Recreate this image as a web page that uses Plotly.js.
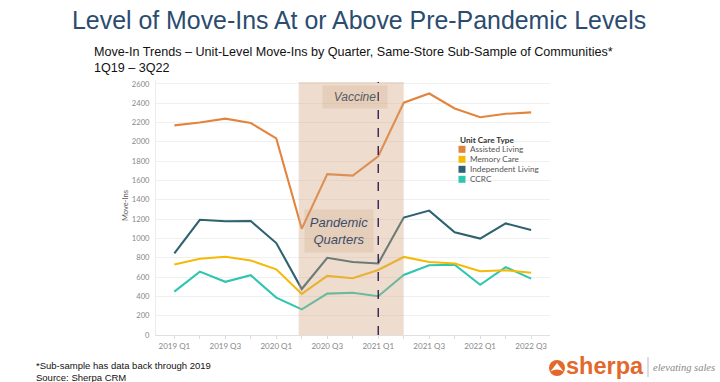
<!DOCTYPE html>
<html>
<head>
<meta charset="utf-8">
<script src="https://cdn.plot.ly/plotly-3.0.1.min.js"></script>
<style>html,body{margin:0;padding:0;background:#fff;}#chart{width:720px;height:382px;}</style>
</head>
<body>
<div id="chart"></div>
<script>
const quarters = ["2019 Q1","2019 Q2","2019 Q3","2019 Q4","2020 Q1","2020 Q2","2020 Q3","2020 Q4","2021 Q1","2021 Q2","2021 Q3","2021 Q4","2022 Q1","2022 Q2","2022 Q3"];
const tickLabels = ["2019 Q1","","2019 Q3","","2020 Q1","","2020 Q3","","2021 Q1","","2021 Q3","","2022 Q1","","2022 Q3"];
const seriesNames = ["Assisted Living","Memory Care","Independent Living","CCRC"];
const assistedLiving = [2170, 2200, 2240, 2195, 2035, 1100, 1665, 1650, 1850, 2405, 2500, 2345, 2255, 2290, 2305];
const memoryCare = [730, 790, 810, 772, 680, 425, 612, 588, 673, 808, 755, 740, 660, 670, 645];
const independentLiving = [845, 1193, 1178, 1180, 952, 476, 799, 755, 741, 1216, 1288, 1064, 998, 1155, 1088];
const ccrc = [449, 656, 551, 619, 387, 265, 428, 438, 401, 622, 722, 727, 520, 703, 584];
const colors = ["#E3843E", "#F6B906", "#2E6270", "#2EC6B1"];

// plot area in pixels
const L = 156, R = 550, T = 80, B = 335;
const px = x => (x - L) / (R - L);
const py = y => (B - y) / (B - T);

const seriesData = [assistedLiving, memoryCare, independentLiving, ccrc];
const order = [3, 1, 2, 0];
const traces = order.map(i => ({
  type: "scatter", mode: "lines", x: quarters, y: seriesData[i], name: seriesNames[i],
  line: {color: colors[i], width: 2.1}, showlegend: false, hoverinfo: "x+y+name"
}));

const shapes = [
  {type: "rect", xref: "x", yref: "paper", x0: 4.88, x1: 9.0, y0: 0, y1: py(82), layer: "above",
   fillcolor: "rgba(210,165,125,0.38)", line: {width: 0}},
  {type: "line", xref: "x", yref: "paper", x0: 8, x1: 8, y0: 0, y1: py(82), layer: "above",
   line: {color: "#2A0F4C", width: 1.3, dash: "dash"}},
  // logo
  {type: "circle", xref: "paper", yref: "paper", x0: px(549), x1: px(565), y0: py(376), y1: py(360),
   fillcolor: "#E2682C", line: {width: 0}},
  {type: "path", xref: "paper", yref: "paper",
   path: `M ${px(550.5)} ${py(371.5)} L ${px(557)} ${py(363)} L ${px(563.5)} ${py(371.5)} Q ${px(557)} ${py(367.5)} ${px(550.5)} ${py(371.5)} Z`,
   fillcolor: "#ffffff", line: {width: 0}},
  {type: "line", xref: "paper", yref: "paper", x0: px(648), x1: px(648), y0: py(357), y1: py(377),
   line: {color: "#bbbbbb", width: 1}}
];

// manual legend
const legTop = 149.3, legStep = 10;
seriesNames.forEach((n, i) => {
  const cy = legTop + i * legStep;
  shapes.push({type: "rect", xref: "paper", yref: "paper", x0: px(458.5), x1: px(465.5),
    y0: py(cy + 3.5), y1: py(cy - 3.5), fillcolor: colors[i], line: {width: 0}, layer: "above"});
});

const ann = (text, x, y, opts) => Object.assign({text, xref: "paper", yref: "paper", x: px(x), y: py(y),
  showarrow: false, xanchor: "left", yanchor: "middle"}, opts || {});

const annotations = [
  ann("Level of Move-Ins At or Above Pre-Pandemic Levels", 359, 20,
    {xanchor: "center", font: {family: "Liberation Sans, Arial", size: 24.9, color: "#2B4C6F"}}),
  ann("Move-In Trends – Unit-Level Move-Ins by Quarter, Same-Store Sub-Sample of Communities*", 92, 52,
    {font: {family: "Liberation Sans, Arial", size: 12.6, color: "#111"}}),
  ann("1Q19 – 3Q22", 92, 68, {font: {family: "Liberation Sans, Arial", size: 12.6, color: "#111"}}),
  ann("Move-Ins", 125, 206, {xanchor: "center", textangle: -90, font: {family: "Lato", size: 7.5, color: "#555"}}),
  ann("<i>Vaccine</i>", 355, 97, {xanchor: "center", bgcolor: "rgba(205,160,120,0.22)",
    borderpad: 4, width: 56, font: {family: "Liberation Sans, Arial", size: 12, color: "#555a66"}}),
  ann("<i>Pandemic<br>Quarters</i>", 339, 231, {xanchor: "center", bgcolor: "rgba(205,160,120,0.22)",
    borderpad: 5, width: 58, font: {family: "Liberation Sans, Arial", size: 13, color: "#3A4C6A"}}),
  ann("<b>Unit Care Type</b>", 457.5, 140, {font: {family: "Lato", size: 8.2, color: "#333"}}),
  ann("*Sub-sample has data back through 2019", 34, 365, {font: {family: "Liberation Sans, Arial", size: 9.5, color: "#111"}}),
  ann("Source: Sherpa CRM", 34, 377, {font: {family: "Liberation Sans, Arial", size: 9.5, color: "#111"}}),
  ann("<b>sherpa</b>", 564, 366, {font: {family: "Liberation Sans, Arial", size: 23.5, color: "#E2682C"}}),
  ann("<i>elevating sales</i>", 651, 367, {font: {family: "Liberation Serif, serif", size: 10.5, color: "#888"}})
];
seriesNames.forEach((n, i) => {
  annotations.push(ann(n, 467.5, legTop + i * legStep, {font: {family: "Lato", size: 8.2, color: "#555"}}));
});

const layout = {
  width: 720, height: 382,
  margin: {l: L, r: 720 - R, t: T, b: 382 - B, pad: 0},
  paper_bgcolor: "#fff", plot_bgcolor: "#fff",
  showlegend: false,
  xaxis: {
    type: "category", categoryorder: "array", categoryarray: quarters,
    range: [-0.72, 14.74], tickvals: quarters, ticktext: tickLabels,
    ticks: "outside", ticklen: 3, tickcolor: "#dddddd", showgrid: false, zeroline: false,
    showline: true, linecolor: "#e0e0e0", linewidth: 1,
    tickfont: {family: "Lato", size: 8, color: "#888"}
  },
  yaxis: {
    range: [0, 2640], tickvals: [0,200,400,600,800,1000,1200,1400,1600,1800,2000,2200,2400,2600],
    showgrid: true, gridcolor: "#f0f0f0", gridwidth: 1, zeroline: false,
    showline: true, linecolor: "#ececec", ticks: "", ticklabelstandoff: 4,
    tickfont: {family: "Lato", size: 7.6, color: "#888"}
  },
  shapes, annotations
};

Plotly.newPlot("chart", traces, layout, {displayModeBar: false, staticPlot: true});
</script>
</body>
</html>
